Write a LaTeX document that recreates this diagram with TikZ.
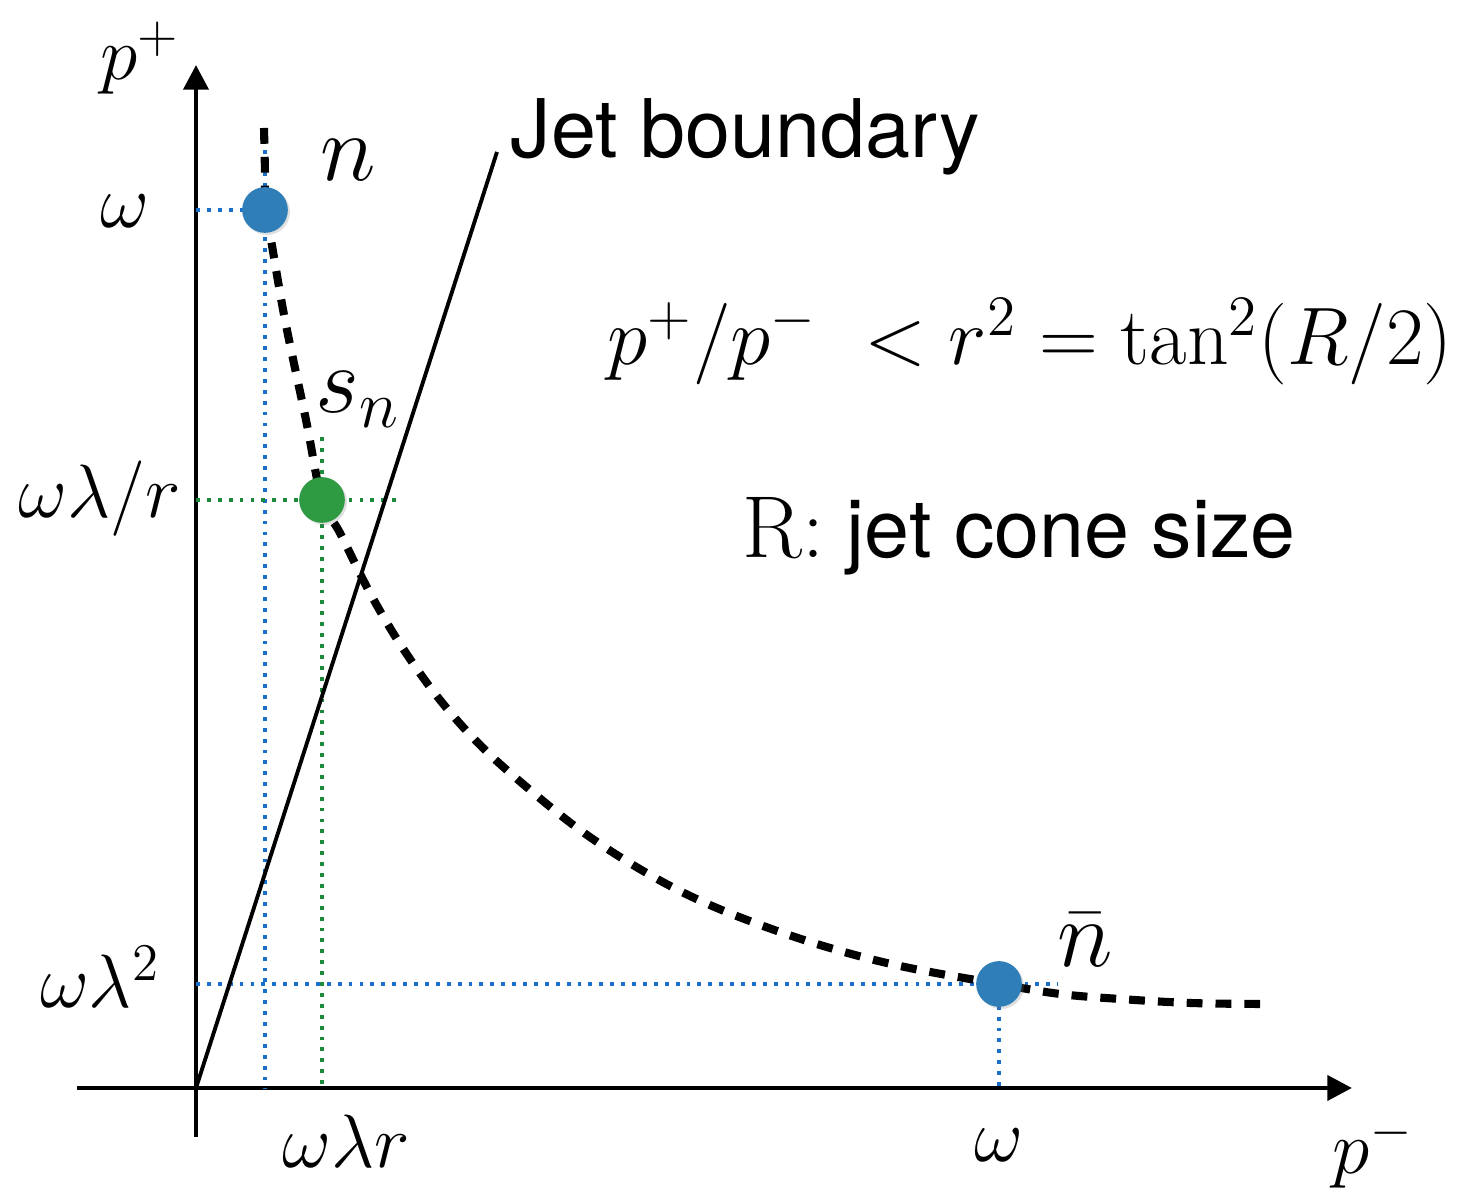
\RequirePackage{fix-cm}
\documentclass[tikz,border=0pt]{standalone}
\usepackage{fontspec}
\setsansfont{TeX Gyre Heros}
\usetikzlibrary{arrows.meta,shadows}

\definecolor{dotblue}{HTML}{2F7EB8}
\definecolor{dotgreen}{HTML}{2E9A42}
\definecolor{guideblue}{HTML}{1A6FC9}
\definecolor{guidegreen}{HTML}{1C8A3A}

\begin{document}
\begin{tikzpicture}[
  x=0.01cm, y=0.01cm,
  axis/.style={-{Triangle[length=7pt,width=7pt]}, line width=1.4pt},
  guide/.style={line width=1.1pt, dash pattern=on 1.1pt off 2pt},
  shell/.style={line width=2.3pt, dash pattern=on 4.5pt off 3.7pt},
  dot/.style={circle, inner sep=0pt, minimum size=13pt,
              drop shadow={opacity=0.25, shadow xshift=0.6pt, shadow yshift=-0.6pt}},
  lab/.style={anchor=base, font=\fontsize{21.5}{26}\selectfont},
  mode/.style={anchor=base, font=\fontsize{27}{32}\selectfont},
  txt/.style={anchor=base west, inner sep=0pt, font=\fontsize{23}{28}\selectfont\sffamily},
]
  \useasboundingbox (0,0) rectangle (1460,1189);

  % axes
  \coordinate (O) at (196,101);
  \coordinate (ybot) at (196,52);
  \coordinate (ytip) at (196,1124);
  \coordinate (xleft) at (77,101);
  \coordinate (xtip) at (1352,101);
  \draw[axis] (ybot) -- (ytip);
  \draw[axis] (xleft) -- (xtip);
  \node[lab] (pplus) at (140,1109) {$p^+$};
  \node[lab] (pminus) at (1373,15) {$p^-$};

  % mode positions
  \coordinate (pn) at (265,979);
  \coordinate (ps) at (322,689);
  \coordinate (pnb) at (999,205);

  % guide lines
  \coordinate (wy) at (196,979);
  \coordinate (ntop) at (265,1039);
  \coordinate (nfoot) at (265,101);
  \coordinate (ly) at (196,205);
  \coordinate (lend) at (1058,205);
  \coordinate (nbfoot) at (999,101);
  \coordinate (sy) at (196,689);
  \coordinate (send) at (403,689);
  \coordinate (stop) at (322,752);
  \coordinate (sfoot) at (322,101);
  \draw[guide, guideblue] (wy) -- (pn);
  \draw[guide, guideblue] (ntop) -- (nfoot);
  \draw[guide, guideblue] (ly) -- (lend);
  \draw[guide, guideblue] (pnb) -- (nbfoot);
  \draw[guide, guidegreen] (sy) -- (send);
  \draw[guide, guidegreen] (stop) -- (sfoot);

  % jet boundary
  \coordinate (jtop) at (497,1037);
  \draw[line width=1.1pt] (O) -- (jtop);
  \node[txt] (jet) at (510,1031) {Jet boundary};

  % p+ p- = const
  \draw[shell] plot[smooth, tension=0.6] coordinates {
    (264,1061) (265,1014) (265,979) (271,949) (285,869) (306,769)
    (322,689) (340,656) (370,596) (402,542) (440,489) (482,442)
    (530,399) (580,359) (633,324) (688,294) (747,269) (820,244)
    (900,223) (999,205) (1060,195) (1120,190) (1190,186) (1260,185)};

  % modes
  \node[dot, fill=dotblue] (n) at (pn) {};
  \node[dot, fill=dotgreen] (sn) at (ps) {};
  \node[dot, fill=dotblue] (nbar) at (pnb) {};

  % labels
  \node[lab] (wtop) at (125,961) {$\omega$};
  \node[mode] (nlab) at (348,1008) {$n$};
  \node[lab] (wlr) at (100,671) {$\omega\lambda/r$};
  \node[mode] (snlab) at (358,776) {$s_n$};
  \node[lab] (wl2) at (100,181) {$\omega\lambda^2$};
  \node[mode] (nblab) at (1085,222) {$\bar{n}$};
  \node[lab] (wright) at (999,27) {$\omega$};
  \node[lab] (wlrx) at (346,21) {$\omega\lambda r$};

  \node[anchor=base west, inner sep=0pt, font=\fontsize{23.2}{28}\selectfont] (cut)
    at (607,824) {$p^+/p^-\ < r^2 = \tan^2(R/2)$};
  \node[txt] (cone) at (742,631) {{\rmfamily\fontsize{25}{28}\selectfont R:} jet cone size};
\end{tikzpicture}
\end{document}
